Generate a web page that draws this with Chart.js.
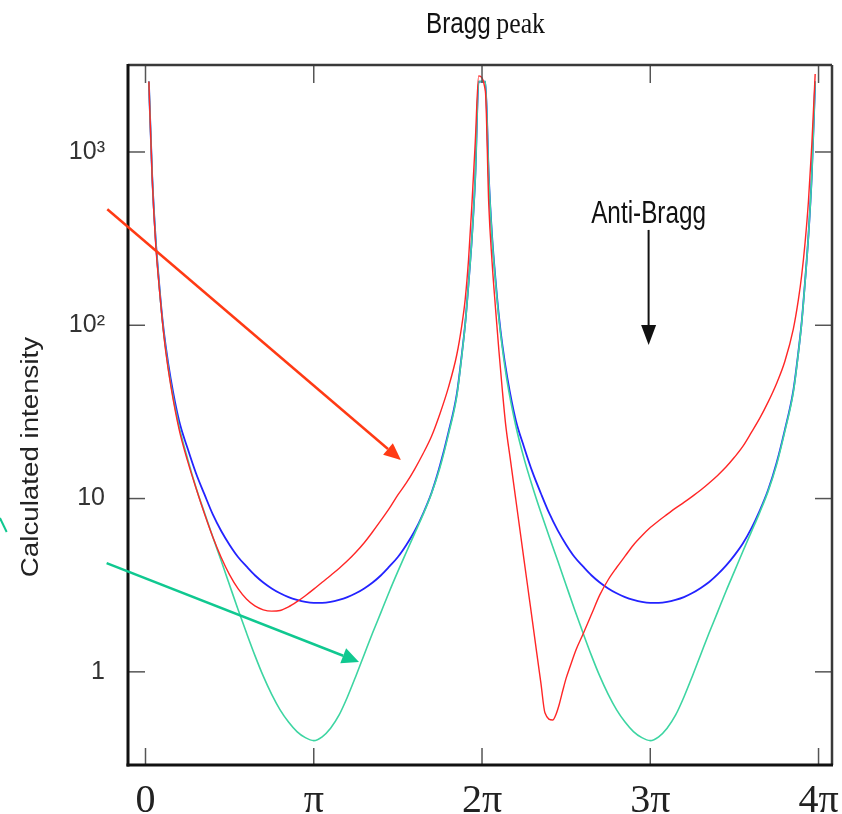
<!DOCTYPE html>
<html>
<head>
<meta charset="utf-8">
<script src="https://cdn.jsdelivr.net/npm/chart.js@4.4.1/dist/chart.umd.min.js"></script>
<style>
	body { margin: 0; background: #fff; }
	#wrap { width: 842px; height: 814px; }
</style>
</head>
<body>
<div id="wrap"><canvas id="braggChart" width="842" height="814"></canvas></div>
<script>
/* values, x in units of pi */
const xTicks = [0, 1, 2, 3, 4];
const xTickLabels = ['0', 'π', '2π', '3π', '4π'];
const yTicks = [1, 10, 100, 1000];
const yTickLabels = ['1', '10', '10²', '10³'];

const phaseX = [
	0.02, 0.04, 0.06, 0.08, 0.10, 0.12, 0.15, 0.20, 0.25, 0.30, 0.35, 0.40, 0.45, 0.50, 0.55, 0.60,
	0.65, 0.70, 0.75, 0.80, 0.85, 0.90, 0.95, 1.00, 1.05, 1.10, 1.15, 1.20, 1.25, 1.30, 1.35, 1.40,
	1.45, 1.50, 1.55, 1.60, 1.65, 1.70, 1.75, 1.80, 1.85, 1.88, 1.90, 1.92, 1.94, 1.96, 1.98,
	2.02, 2.04, 2.06, 2.08, 2.10, 2.12, 2.15, 2.20, 2.25, 2.30, 2.35, 2.40, 2.45, 2.50, 2.55, 2.60,
	2.65, 2.70, 2.75, 2.80, 2.85, 2.90, 2.95, 3.00, 3.05, 3.10, 3.15, 3.20, 3.25, 3.30, 3.35, 3.40,
	3.45, 3.50, 3.55, 3.60, 3.65, 3.70, 3.75, 3.80, 3.85, 3.88, 3.90, 3.92, 3.94, 3.96, 3.98
];
const blueY = [
	2550, 720, 320, 180, 110, 76, 49, 28, 19.5, 14.0, 10.6, 8.1, 6.5, 5.4, 4.6, 4.06,
	3.61, 3.28, 3.03, 2.84, 2.70, 2.60, 2.53, 2.50, 2.50, 2.53, 2.60, 2.70, 2.84, 3.03, 3.28, 3.61,
	4.06, 4.6, 5.4, 6.5, 8.2, 10.8, 15.5, 24, 40, 68, 102, 175, 320, 720, 2550,
	2550, 730, 325, 185, 114, 78, 50, 28.5, 19.8, 14.2, 10.7, 8.2, 6.55, 5.42, 4.6, 4.06,
	3.61, 3.28, 3.03, 2.84, 2.70, 2.60, 2.53, 2.50, 2.50, 2.53, 2.60, 2.70, 2.85, 3.05, 3.30, 3.65,
	4.1, 4.7, 5.5, 6.7, 8.5, 11.2, 16, 25, 42, 70, 105, 180, 330, 740, 2550
];
const greenY = [
	2550, 720, 315, 177, 107, 73, 46, 26, 17, 11.6, 8.3, 6.0, 4.37, 3.16, 2.29, 1.68,
	1.245, 0.944, 0.741, 0.603, 0.513, 0.452, 0.417, 0.401, 0.422, 0.473, 0.562, 0.716, 0.944, 1.26, 1.68, 2.21,
	2.92, 3.8, 4.9, 6.3, 8.1, 10.7, 15.1, 23.4, 39, 67, 101, 174, 318, 720, 2550,
	2550, 725, 318, 180, 110, 75, 47, 26.5, 17, 11.7, 8.3, 6.0, 4.37, 3.16, 2.29, 1.68,
	1.245, 0.944, 0.741, 0.603, 0.513, 0.452, 0.417, 0.401, 0.422, 0.473, 0.562, 0.716, 0.944, 1.26, 1.68, 2.21,
	2.92, 3.8, 4.95, 6.4, 8.3, 11.0, 15.6, 24.5, 41, 69, 104, 178, 328, 735, 2550
];
const redX = [
	0.02, 0.04, 0.06, 0.08, 0.10, 0.12, 0.15, 0.20, 0.25, 0.30, 0.35, 0.40, 0.45, 0.50, 0.55, 0.60,
	0.65, 0.70, 0.75, 0.80, 0.85, 0.90, 0.95, 1.00, 1.05, 1.10, 1.15, 1.20, 1.25, 1.30, 1.35, 1.40,
	1.45, 1.50, 1.55, 1.60, 1.65, 1.70, 1.75, 1.80, 1.85, 1.88, 1.90, 1.92, 1.94, 1.96, 1.98,
	2.02, 2.04, 2.06, 2.08, 2.10, 2.12, 2.14, 2.17, 2.20, 2.25, 2.28, 2.30, 2.325, 2.35, 2.374,
	2.42, 2.44, 2.46, 2.48, 2.50, 2.523, 2.56, 2.60,
	2.65, 2.70, 2.75, 2.80, 2.85, 2.90, 2.95, 3.00, 3.05, 3.10, 3.15, 3.20, 3.25, 3.30, 3.35, 3.40,
	3.45, 3.50, 3.55, 3.60, 3.65, 3.70, 3.75, 3.80, 3.85, 3.88, 3.90, 3.92, 3.94, 3.96, 3.98
];
const redY = [
	2550, 700, 300, 172, 106, 71, 45, 25, 16.5, 11.5, 8.2, 6.0, 4.57, 3.63, 3.02, 2.63,
	2.40, 2.28, 2.24, 2.26, 2.37, 2.54, 2.75, 3.0, 3.29, 3.6, 3.95, 4.37, 4.9, 5.56, 6.43, 7.5,
	8.8, 10.5, 12.3, 14.8, 18.2, 22.9, 30.9, 43.7, 67.6, 100, 141, 240, 500, 1150, 2750,
	2240, 500, 230, 126, 72, 43, 27, 16.4, 10, 4.4, 2.7, 1.95, 1.29, 0.86, 0.58,
	0.527, 0.57, 0.655, 0.78, 0.92, 1.07, 1.35, 1.65,
	2.14, 2.78, 3.4, 4.0, 4.65, 5.4, 6.1, 6.8, 7.45, 8.1, 8.8, 9.5, 10.3, 11.2, 12.3, 13.6,
	15.2, 17.3, 20, 24, 29, 36, 46, 62, 95, 140, 195, 300, 520, 1100, 2820
];

/* annotation anchors, in data units [x, intensity] */
const redArrow = [[-0.227, 467], [1.518, 16.7]];
const greenArrow = [[-0.231, 4.24], [1.269, 1.14]];
const greenStub = [[-0.865, 7.72], [-0.825, 6.41]];
const antiArrow = [[2.99, 355], [2.99, 76.9]];

function toPoints(xs, ys) {
	return xs.map((v, i) => ({x: v, y: ys[i]}));
}

function line(ctx, x0, y0, x1, y1) {
	ctx.beginPath();
	ctx.moveTo(x0, y0);
	ctx.lineTo(x1, y1);
	ctx.stroke();
}

function drawArrow(ctx, from, to, color, width, headLen, headWidth) {
	const ang = Math.atan2(to[1] - from[1], to[0] - from[0]);
	const bx = to[0] - headLen * Math.cos(ang);
	const by = to[1] - headLen * Math.sin(ang);
	ctx.strokeStyle = color;
	ctx.lineWidth = width;
	line(ctx, from[0], from[1], bx, by);
	ctx.fillStyle = color;
	ctx.beginPath();
	ctx.moveTo(to[0], to[1]);
	ctx.lineTo(bx + headWidth / 2 * Math.sin(ang), by - headWidth / 2 * Math.cos(ang));
	ctx.lineTo(bx - headWidth / 2 * Math.sin(ang), by + headWidth / 2 * Math.cos(ang));
	ctx.closePath();
	ctx.fill();
}

function squeezedText(ctx, text, x, y, font, sx) {
	ctx.save();
	ctx.font = font;
	ctx.translate(x, y);
	ctx.scale(sx, 1);
	ctx.fillText(text, 0, 0);
	ctx.restore();
}

const decorPlugin = {
	id: 'decor',
	afterDraw(chart) {
		const ctx = chart.ctx;
		const a = chart.chartArea;
		const xs = chart.scales.x;
		const ys = chart.scales.y;
		const px = p => [xs.getPixelForValue(p[0]), ys.getPixelForValue(p[1])];
		ctx.save();

		// inward tick marks on all four sides
		ctx.strokeStyle = '#555';
		ctx.lineWidth = 1.5;
		xs.ticks.forEach(t => {
			const x = xs.getPixelForValue(t.value);
			line(ctx, x, a.bottom, x, a.bottom - 17);
			line(ctx, x, a.top, x, a.top + 18);
		});
		ys.ticks.forEach(t => {
			const y = ys.getPixelForValue(t.value);
			line(ctx, a.left, y, a.left + 17, y);
			line(ctx, a.right, y, a.right - 17, y);
		});

		// frame
		ctx.strokeStyle = '#3a3a3a';
		ctx.lineWidth = 2.5;
		line(ctx, a.left, a.top, a.right, a.top);
		line(ctx, a.right, a.top, a.right, a.bottom);
		ctx.strokeStyle = '#111';
		ctx.lineWidth = 3;
		line(ctx, a.left, a.top - 1, a.left, a.bottom + 1.5);
		line(ctx, a.left - 1.5, a.bottom, a.right + 1, a.bottom);

		// arrows
		drawArrow(ctx, px(redArrow[0]), px(redArrow[1]), '#ff3a14', 2.5, 17, 15);
		drawArrow(ctx, px(greenArrow[0]), px(greenArrow[1]), '#10c890', 2.5, 17, 16);
		ctx.strokeStyle = '#10c890';
		ctx.lineWidth = 2;
		const s0 = px(greenStub[0]);
		const s1 = px(greenStub[1]);
		line(ctx, s0[0], s0[1], s1[0], s1[1]);
		const b0 = px(antiArrow[0]);
		drawArrow(ctx, b0, px(antiArrow[1]), '#111', 2, 20, 15);

		// texts
		ctx.fillStyle = '#111';
		ctx.textBaseline = 'alphabetic';
		ctx.textAlign = 'center';
		squeezedText(ctx, 'Anti-Bragg', b0[0], b0[1] - 7, '32px "Liberation Sans", Arial, sans-serif', 0.76);

		ctx.textAlign = 'left';
		const fontB = '30px "Liberation Sans", Arial, sans-serif';
		const fontP = '30px "Liberation Serif", "Times New Roman", serif';
		ctx.font = fontB;
		const wB = ctx.measureText('Bragg').width * 0.81;
		ctx.font = fontP;
		const wP = ctx.measureText('peak').width * 0.86;
		const gap = 5.5;
		const startX = 485.5 - (wB + gap + wP) / 2;
		squeezedText(ctx, 'Bragg', startX, 33.3, fontB, 0.81);
		squeezedText(ctx, 'peak', startX + wB + gap, 33.3, fontP, 0.86);

		ctx.save();
		ctx.fillStyle = '#222';
		ctx.font = '28px "Liberation Sans", Arial, sans-serif';
		ctx.textAlign = 'center';
		ctx.translate(37.5, 457);
		ctx.rotate(-Math.PI / 2);
		ctx.scale(0.99, 0.86);
		ctx.fillText('Calculated intensity', 0, 0);
		ctx.restore();

		ctx.restore();
	}
};

new Chart(document.getElementById('braggChart'), {
	type: 'line',
	data: {
		datasets: [
			{
				label: 'red',
				data: toPoints(redX, redY),
				borderColor: '#ff2626',
				borderWidth: 1.4,
				pointRadius: 0,
				cubicInterpolationMode: 'monotone'
			},
			{
				label: 'green',
				data: toPoints(phaseX, greenY),
				borderColor: '#3dd5a2',
				borderWidth: 1.6,
				pointRadius: 0,
				cubicInterpolationMode: 'monotone'
			},
			{
				label: 'blue',
				data: toPoints(phaseX, blueY),
				borderColor: '#2323ff',
				borderWidth: 1.8,
				pointRadius: 0,
				cubicInterpolationMode: 'monotone'
			}
		]
	},
	options: {
		responsive: false,
		animation: false,
		events: [],
		layout: {
			padding: {top: 65, right: 10, left: 0, bottom: 0}
		},
		plugins: {
			legend: {display: false},
			tooltip: {enabled: false},
			title: {display: false}
		},
		scales: {
			x: {
				type: 'linear',
				min: -0.104,
				max: 4.08,
				grid: {display: false, drawTicks: false},
				border: {display: false},
				afterBuildTicks: (scale) => {
					scale.ticks = xTicks.map(v => ({value: v}));
				},
				afterFit: (scale) => {
					scale.height = 49;
					scale.paddingLeft = 0;
					scale.paddingRight = 0;
				},
				ticks: {
					autoSkip: false,
					maxRotation: 0,
					padding: 12,
					color: '#222',
					font: {family: '"Liberation Serif", "Times New Roman", serif', size: 40},
					callback: (value) => xTickLabels[xTicks.indexOf(value)]
				}
			},
			y: {
				type: 'logarithmic',
				min: 0.29,
				max: 3177,
				grid: {display: false, drawTicks: false},
				border: {display: false},
				afterBuildTicks: (scale) => {
					scale.ticks = yTicks.map(v => ({value: v}));
				},
				afterFit: (scale) => {
					scale.width = 128;
					scale.paddingTop = 0;
					scale.paddingBottom = 0;
				},
				ticks: {
					autoSkip: false,
					padding: 23,
					color: '#333',
					font: {family: '"Liberation Sans", Arial, sans-serif', size: 25},
					callback: (value) => yTickLabels[yTicks.indexOf(value)]
				}
			}
		}
	},
	plugins: [decorPlugin]
});
</script>
</body>
</html>
